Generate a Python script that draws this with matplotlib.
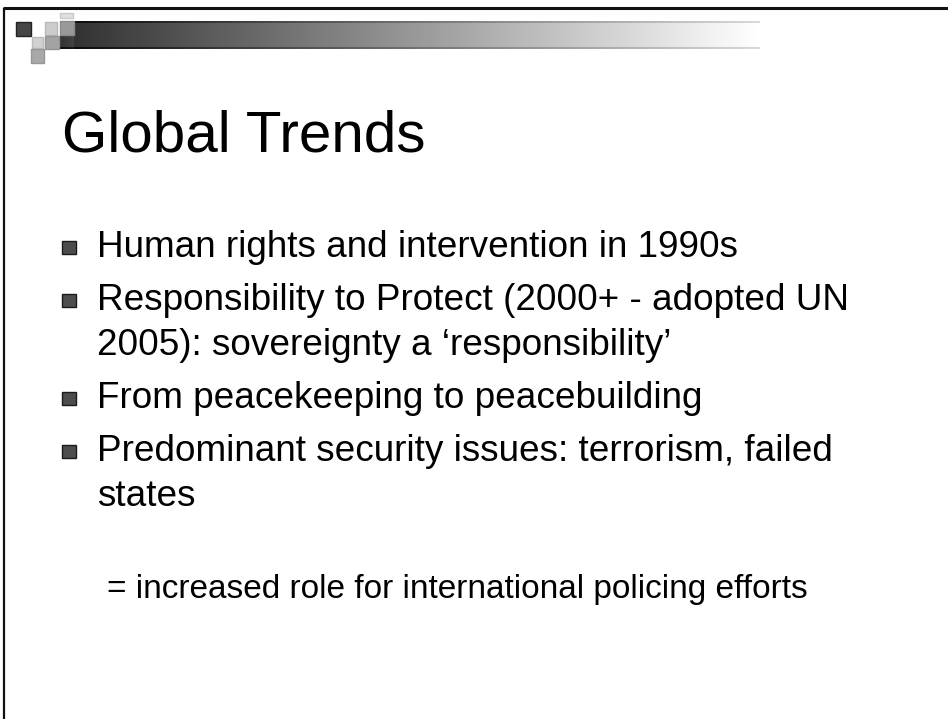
import numpy as np
import matplotlib
matplotlib.use('Agg')
import matplotlib.pyplot as plt
from matplotlib.patches import Rectangle

# ================== CONTENT ==================

TITLE = 'Global Trends'

BULLETS = [
    ['Human rights and intervention in 1990s'],
    ['Responsibility to Protect (2000+ - adopted UN',
     '2005): sovereignty a \u2018responsibility\u2019'],
    ['From peacekeeping to peacebuilding'],
    ['Predominant security issues: terrorism, failed',
     'states'],
]

NOTE = '= increased role for international policing efforts'

# decoration squares in the top-left corner: (x, y, w, h, grey)
CORNER_SQUARES = [
    (16, 22, 15, 14, 0.27),
    (45, 22, 12, 13, 0.80),
    (60, 21, 14, 14, 0.60),
    (60, 13, 13, 5, 0.88),
    (32, 37, 11, 11, 0.82),
    (45, 36, 14, 13, 0.64),
    (31, 49, 13, 14, 0.66),
]

W, H = 948, 719
FONT = ['Liberation Sans', 'DejaVu Sans']

# ================== DRAW ==================

fig = plt.figure(figsize=(W / 100, H / 100), dpi=100)
ax = fig.add_axes([0, 0, 1, 1])
ax.set_xlim(0, W)
ax.set_ylim(H, 0)
ax.axis('off')

# slide frame (top and left edges)
ax.plot([3, W], [8, 8], color='#111111', lw=2.2, solid_capstyle='butt')
ax.plot([4, 4], [8, H], color='#111111', lw=1.6, solid_capstyle='butt')

# gradient header bar
x0, x1, y0, y1 = 60, 760, 21, 49
grad = np.linspace(0.2, 1.0, 400)
bar = np.tile(grad, (28, 1))
bar[0:2, :] = np.clip(grad - 0.15, 0, 1)
bar[-2:, :] = np.clip(grad - 0.15, 0, 1)
ax.imshow(bar, cmap='gray', vmin=0, vmax=1, extent=[74, x1, y1, y0],
          aspect='auto', interpolation='bilinear', zorder=2)
ax.imshow(bar[14:, :30], cmap='gray', vmin=0, vmax=1,
          extent=[x0, 74, y1, 35], aspect='auto', zorder=2)

for sx, sy, sw, sh, g in CORNER_SQUARES:
    edge = '#222222' if g < 0.4 else (g * 0.9, g * 0.9, g * 0.9)
    ax.add_patch(Rectangle((sx, sy), sw, sh, facecolor=(g, g, g),
                           edgecolor=edge, lw=1.0, zorder=3))

# title
ax.text(62, 151, TITLE, fontsize=42, family=FONT, color='black',
        va='baseline', ha='left')

# bullets
y = 257
for lines in BULLETS:
    ax.add_patch(Rectangle((62, y - 16), 14, 13, facecolor='#4d4d4d',
                           edgecolor='#1a1a1a', lw=1.0, zorder=3))
    for i, line in enumerate(lines):
        ax.text(97, y + i * 45, line, fontsize=26.6, family=FONT,
                color='black', va='baseline', ha='left')
    y += (len(lines) - 1) * 45 + 53

ax.text(107, 598, NOTE, fontsize=24, family=FONT, color='black',
        va='baseline', ha='left')

fig.savefig('out.png', dpi=100, facecolor='white')
